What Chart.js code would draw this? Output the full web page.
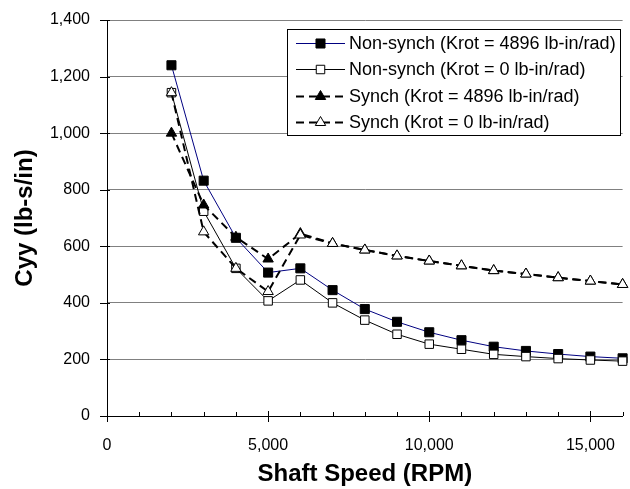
<!DOCTYPE html>
<html><head><meta charset="utf-8">
<script src="https://cdn.jsdelivr.net/npm/chart.js@4/dist/chart.umd.min.js"></script>
<style>html,body{margin:0;padding:0;background:#fff;}</style>
</head><body>
<canvas id="c" width="630" height="489"></canvas>
<script>
const speeds = [2000, 3000, 4000, 5000, 6000, 7000, 8000, 9000, 10000, 11000, 12000, 13000, 14000, 15000, 16000];
const nonSynchK4896 = [1240, 832, 630, 507, 522, 445, 378, 333, 296, 268, 245, 230, 219, 210, 204];
const nonSynchK0 = [1143, 724, 522, 407, 481, 400, 339, 289, 254, 236, 218, 210, 203, 198, 194];
const synchK4896 = [1000, 746, 632, 555, 645, 610, 587, 566, 548, 531, 514, 502, 489, 477, 465];
const synchK0 = [1143, 651, 522, 440, 640, 610, 587, 566, 548, 531, 514, 502, 489, 477, 465];
const xTickValues = [0, 5000, 10000, 15000];
const yTickValues = [0, 200, 400, 600, 800, 1000, 1200, 1400];
const seriesLabels = [
  'Non-synch (Krot = 4896 lb-in/rad)',
  'Non-synch (Krot = 0 lb-in/rad)',
  'Synch (Krot = 4896 lb-in/rad)',
  'Synch (Krot = 0 lb-in/rad)'
];
const xTitle = 'Shaft Speed (RPM)';
const yTitle = 'Cyy (lb-s/in)';
const X_MAX = 16000;

const FAM = '"Liberation Sans", Arial, sans-serif';
const pts = arr => speeds.map((s, i) => ({x: s, y: arr[i]}));

const datasets = [
  {label: seriesLabels[0], data: pts(nonSynchK4896), borderColor: '#000080', borderWidth: 1,
   pointStyle: 'rect', pointRadius: 6.4, pointBackgroundColor: '#000', pointBorderColor: '#000', pointBorderWidth: 1, order: 3},
  {label: seriesLabels[1], data: pts(nonSynchK0), borderColor: '#000', borderWidth: 1,
   pointStyle: 'rect', pointRadius: 6, pointBackgroundColor: '#fff', pointBorderColor: '#000', pointBorderWidth: 1, order: 2},
  {label: seriesLabels[2], data: pts(synchK4896), borderColor: '#000', borderWidth: 2, borderDash: [8, 5],
   pointStyle: 'triangle', pointRadius: 6, pointBackgroundColor: '#000', pointBorderColor: '#000', pointBorderWidth: 1, order: 1},
  {label: seriesLabels[3], data: pts(synchK0), borderColor: '#000', borderWidth: 2, borderDash: [8, 5],
   pointStyle: 'triangle', pointRadius: 6, pointBackgroundColor: '#fff', pointBorderColor: '#000', pointBorderWidth: 1, order: 0}
];
datasets.forEach(d => { d.tension = 0; d.fill = false; d.pointHoverRadius = d.pointRadius; d.clip = false; });

const tickMarks = {
  id: 'tickMarks',
  beforeDatasetsDraw(chart) {
    const ctx = chart.ctx, xs = chart.scales.x, ys = chart.scales.y;
    const a = chart.chartArea;
    ctx.save();
    ctx.strokeStyle = '#000';
    ctx.lineWidth = 1;
    ctx.beginPath();
    for (let v = 0; v <= X_MAX; v += 1000) {
      const px = Math.round(xs.getPixelForValue(v)) + 0.5;
      if (v % 5000 === 0) { ctx.moveTo(px, a.bottom - 5); ctx.lineTo(px, a.bottom + 6); }
      else { ctx.moveTo(px, a.bottom - 4); ctx.lineTo(px, a.bottom); }
    }
    yTickValues.forEach(v => {
      const py = Math.round(ys.getPixelForValue(v)) + 0.5;
      ctx.moveTo(a.left - 7, py); ctx.lineTo(a.left + 3, py);
    });
    ctx.stroke();
    ctx.restore();
  }
};

const boxLegend = {
  id: 'boxLegend',
  afterDraw(chart) {
    const ctx = chart.ctx;
    const bx = 287.5, by = 29.5, bw = 333, bh = 106;
    ctx.save();
    ctx.fillStyle = '#fff';
    ctx.fillRect(bx, by, bw, bh);
    ctx.strokeStyle = '#000';
    ctx.lineWidth = 1;
    ctx.strokeRect(bx, by, bw, bh);
    const rowY = [43, 69, 96, 122];
    chart.data.datasets.forEach((d, i) => {
      const y = rowY[i] + 0.5;
      ctx.save();
      ctx.strokeStyle = d.borderColor;
      ctx.lineWidth = d.borderWidth;
      ctx.setLineDash(d.borderDash || []);
      ctx.beginPath();
      ctx.moveTo(296, y); ctx.lineTo(345, y);
      ctx.stroke();
      ctx.restore();
      ctx.save();
      ctx.fillStyle = d.pointBackgroundColor;
      ctx.strokeStyle = d.pointBorderColor;
      ctx.lineWidth = d.pointBorderWidth;
      Chart.helpers.drawPoint(ctx, {pointStyle: d.pointStyle, radius: d.pointRadius, rotation: 0, borderWidth: 1}, 320.5, y);
      ctx.restore();
      ctx.fillStyle = '#000';
      ctx.font = '18px ' + FAM;
      ctx.textBaseline = 'middle';
      ctx.textAlign = 'left';
      ctx.fillText(d.label, 349, y + 1);
    });
    ctx.restore();
  }
};

new Chart(document.getElementById('c'), {
  type: 'line',
  data: {datasets},
  options: {
    responsive: false,
    animation: false,
    devicePixelRatio: 1,
    locale: 'en-US',
    layout: {padding: {top: 20, right: 1, left: 0, bottom: 0}},
    plugins: {legend: {display: false}, tooltip: {enabled: false}},
    scales: {
      x: {
        type: 'linear', min: 0, max: X_MAX,
        afterBuildTicks(s) { s.ticks = xTickValues.concat([X_MAX]).map(v => ({value: v})); },
        afterFit(s) { s.height = 73; },
        ticks: {padding: 0, color: '#000', font: {size: 16, family: FAM}, maxRotation: 0, autoSkip: false,
                callback: v => xTickValues.includes(v) ? v.toLocaleString('en-US') : ''},
        grid: {display: true, drawOnChartArea: false, drawTicks: true, tickLength: 20, tickColor: 'rgba(0,0,0,0)'},
        border: {display: true, color: '#000', width: 1},
        title: {display: true, text: xTitle, color: '#000', font: {size: 24, weight: 'bold', family: FAM}, padding: {top: 0, bottom: 0}}
      },
      y: {
        type: 'linear', min: 0, max: 1400,
        afterBuildTicks(s) { s.ticks = yTickValues.map(v => ({value: v})); },
        afterFit(s) { s.width = 107; },
        ticks: {padding: 0, color: '#000', font: {size: 16, family: FAM}, autoSkip: false},
        grid: {color: '#808080', lineWidth: 1, drawTicks: true, tickLength: 17, tickColor: 'rgba(0,0,0,0)'},
        border: {display: true, color: '#000', width: 1},
        title: {display: true, text: yTitle, color: '#000', font: {size: 24, weight: 'bold', family: FAM}, padding: {top: 11, bottom: 0}}
      }
    }
  },
  plugins: [tickMarks, boxLegend]
});
</script>
</body></html>
